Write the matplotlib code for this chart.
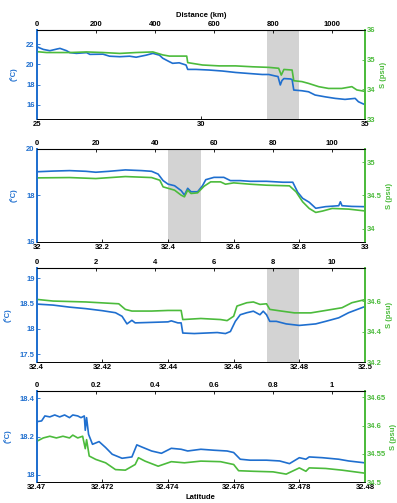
import numpy as np
import matplotlib
matplotlib.use('Agg')
import matplotlib.pyplot as plt
from matplotlib.ticker import FuncFormatter

plt.rcParams['font.family'] = ['Liberation Sans', 'DejaVu Sans']
plt.rcParams['font.size'] = 5.5
plt.rcParams['font.weight'] = 'bold'

# panel 1 : 25 - 35
lat1_t = [25.0, 25.2, 25.4, 25.61, 25.71, 25.91, 26.01, 26.21, 26.52, 26.62, 27.02, 27.22, 27.53, 27.83,
          28.03, 28.33, 28.54, 28.74, 28.84, 29.04, 29.14, 29.34, 29.55, 29.6, 29.85, 30.25, 30.66, 31.06,
          31.46, 31.87, 32.07, 32.27, 32.35, 32.42, 32.47, 32.53, 32.73, 32.78, 32.83, 33.08, 33.28, 33.48,
          33.79, 34.09, 34.39, 34.7, 34.8, 34.95]
t1 = [21.74, 21.47, 21.34, 21.5, 21.57, 21.34, 21.15, 21.08, 21.15, 20.98, 21.0, 20.8, 20.75, 20.8,
      20.7, 20.9, 21.08, 20.9, 20.6, 20.26, 20.1, 20.15, 19.93, 19.5, 19.5, 19.44, 19.34, 19.2,
      19.1, 19.0, 19.0, 18.85, 18.8, 17.97, 18.4, 18.6, 18.56, 18.5, 17.47, 17.4, 17.3, 16.98,
      16.8, 16.65, 16.55, 16.65, 16.32, 16.1]
lat1_s = [25.0, 25.3, 25.61, 26.01, 26.52, 27.02, 27.53, 28.03, 28.54, 28.84, 29.04, 29.34, 29.57, 29.6,
          30.05, 30.56, 31.06, 31.57, 32.07, 32.37, 32.45, 32.53, 32.78, 32.83, 33.08, 33.28, 33.59,
          33.89, 34.29, 34.6, 34.75, 34.95]
s1 = [35.27, 35.24, 35.24, 35.24, 35.26, 35.24, 35.21, 35.24, 35.26, 35.16, 35.12, 35.12, 35.12, 34.9,
      34.82, 34.79, 34.79, 34.76, 34.74, 34.71, 34.48, 34.67, 34.65, 34.29, 34.26, 34.2, 34.09,
      34.03, 34.03, 34.09, 33.98, 33.94]

# panel 2 : 32 - 33
lat2_t = [32.0, 32.05, 32.1, 32.15, 32.18, 32.22, 32.27, 32.32, 32.35, 32.37, 32.385, 32.4, 32.42, 32.44,
          32.45, 32.46, 32.47, 32.49, 32.505, 32.515, 32.54, 32.57, 32.59, 32.62, 32.65, 32.7, 32.75,
          32.78, 32.795, 32.81, 32.83, 32.85, 32.88, 32.92, 32.925, 32.93, 32.96, 32.995]
t2 = [19.02, 19.05, 19.07, 19.04, 19.0, 19.04, 19.1, 19.07, 19.04, 18.92, 18.64, 18.49, 18.42, 18.21,
      18.02, 18.31, 18.16, 18.16, 18.42, 18.68, 18.78, 18.78, 18.64, 18.64, 18.61, 18.61, 18.57,
      18.57, 18.14, 17.88, 17.71, 17.45, 17.52, 17.56, 17.73, 17.56, 17.53, 17.52]
lat2_s = [32.0, 32.1, 32.18, 32.27, 32.35, 32.375, 32.385, 32.42, 32.44, 32.45, 32.46, 32.47, 32.49,
          32.51, 32.53, 32.56, 32.575, 32.6, 32.65, 32.7, 32.77, 32.79, 32.81, 32.83, 32.85, 32.87,
          32.9, 32.95, 32.995]
s2 = [34.765, 34.77, 34.755, 34.785, 34.77, 34.73, 34.63, 34.58, 34.505, 34.48, 34.58, 34.53, 34.54,
      34.64, 34.705, 34.705, 34.67, 34.69, 34.67, 34.655, 34.645, 34.555, 34.405, 34.305, 34.245, 34.265,
      34.305, 34.295, 34.27]

# panel 3 : 32.4 - 32.5
lat3_t = [32.4, 32.405, 32.41, 32.415, 32.42, 32.424, 32.426, 32.4275, 32.429, 32.43, 32.435, 32.44,
          32.441, 32.443, 32.444, 32.4445, 32.448, 32.455, 32.4575, 32.459, 32.4605, 32.462, 32.464,
          32.466, 32.468, 32.469, 32.47, 32.471, 32.473, 32.476, 32.48, 32.485, 32.488, 32.492, 32.495,
          32.4995]
t3 = [18.49, 18.47, 18.43, 18.4, 18.36, 18.32, 18.25, 18.1, 18.17, 18.12, 18.13, 18.14,
      18.16, 18.12, 18.12, 17.92, 17.91, 17.93, 17.91, 17.95, 18.15, 18.28, 18.32,
      18.35, 18.28, 18.35, 18.28, 18.15, 18.15, 18.1, 18.07, 18.1, 18.15, 18.22, 18.32,
      18.43]
lat3_s = [32.4, 32.405, 32.415, 32.425, 32.427, 32.429, 32.435, 32.44, 32.444, 32.4445, 32.45, 32.456,
          32.458, 32.46, 32.461, 32.464, 32.466, 32.468, 32.47, 32.471, 32.4745, 32.4785, 32.4835, 32.488,
          32.493, 32.496, 32.4995]
s3 = [34.613, 34.602, 34.596, 34.584, 34.547, 34.536, 34.536, 34.54, 34.54, 34.48, 34.487, 34.48,
      34.473, 34.502, 34.569, 34.591, 34.596, 34.58, 34.584, 34.547, 34.536, 34.524, 34.524, 34.54,
      34.558, 34.591, 34.609]

# panel 4 : 32.47 - 32.48
lat4_t = [32.47, 32.47015, 32.47025, 32.4704, 32.47055, 32.4707, 32.47085, 32.471, 32.4711, 32.47125,
          32.47135, 32.47145, 32.47148, 32.47152, 32.47158, 32.4717, 32.4719, 32.4721, 32.4723, 32.4726,
          32.4729, 32.47305, 32.4732, 32.4735, 32.4738, 32.4741, 32.4744, 32.4746, 32.475, 32.4754,
          32.4758, 32.476, 32.4762, 32.4765, 32.477, 32.4774, 32.4777, 32.478, 32.4782, 32.4783,
          32.4787, 32.4792, 32.4795, 32.47995]
t4 = [18.278, 18.282, 18.308, 18.303, 18.313, 18.303, 18.313, 18.299, 18.313, 18.308,
      18.299, 18.308, 18.233, 18.299, 18.212, 18.16, 18.174, 18.143, 18.108, 18.087,
      18.094, 18.157, 18.146, 18.125, 18.113, 18.139, 18.134, 18.125, 18.134, 18.129,
      18.125, 18.117, 18.082, 18.077, 18.077, 18.073, 18.059, 18.09, 18.082, 18.094,
      18.09, 18.082, 18.073, 18.064]
lat4_s = [32.47, 32.4702, 32.4704, 32.4706, 32.4708, 32.471, 32.4711, 32.47125, 32.4714, 32.47148,
          32.47152, 32.4716, 32.4718, 32.4721, 32.4724, 32.4727, 32.473, 32.4731, 32.4733, 32.4737,
          32.4741, 32.4745, 32.475, 32.4756, 32.476, 32.47615, 32.4766, 32.4772, 32.4776, 32.478,
          32.4782, 32.4783, 32.4788, 32.4793, 32.47995]
s4 = [34.572, 34.578, 34.581, 34.578, 34.581, 34.578, 34.583, 34.578, 34.581, 34.559,
      34.575, 34.546, 34.54, 34.534, 34.522, 34.521, 34.531, 34.543, 34.537, 34.528,
      34.536, 34.534, 34.537, 34.536, 34.531, 34.52, 34.519, 34.518, 34.514, 34.525,
      34.519, 34.525, 34.524, 34.521, 34.516]

panels = [
    dict(lt=lat1_t, t=t1, ls=lat1_s, s=s1, xlim=(25, 35), xt=[25, 30, 35],
         tlim=(14.62, 23.38), tt=[16, 18, 20, 22], slim=(33, 36), st=[33, 34, 35, 36],
         shade=(32, 33), dt=np.arange(0, 1001, 200)),
    dict(lt=lat2_t, t=t2, ls=lat2_s, s=s2, xlim=(32, 33), xt=[32, 32.2, 32.4, 32.6, 32.8, 33],
         tlim=(16, 20), tt=[16, 18, 20], slim=(33.8, 35.2), st=[34, 34.5, 35],
         shade=(32.4, 32.5), dt=np.arange(0, 101, 20)),
    dict(lt=lat3_t, t=t3, ls=lat3_s, s=s3, xlim=(32.4, 32.5),
         xt=[32.4, 32.42, 32.44, 32.46, 32.48, 32.5],
         tlim=(17.35, 19.2), tt=[17.5, 18, 18.5, 19], slim=(34.2, 34.82), st=[34.2, 34.4, 34.6],
         shade=(32.47, 32.48), dt=np.arange(0, 11, 2)),
    dict(lt=lat4_t, t=t4, ls=lat4_s, s=s4, xlim=(32.47, 32.48),
         xt=[32.47, 32.472, 32.474, 32.476, 32.478, 32.48],
         tlim=(17.963, 18.438), tt=[18, 18.2, 18.4], slim=(34.5, 34.661), st=[34.5, 34.55, 34.6, 34.65],
         shade=None, dt=[0, 0.2, 0.4, 0.6, 0.8, 1.0]),
]

blue = '#1f6fcf'
green = '#4cbb3c'
fmt = FuncFormatter(lambda v, p: '%g' % round(v, 6))
km = 111.2

fig = plt.figure(figsize=(3.97, 5.03), dpi=100)
boxes = [(0.7634, 0.177), (0.5189, 0.1849), (0.2803, 0.1869), (0.0417, 0.1809)]

for i, p in enumerate(panels):
    ax = fig.add_axes([0.0924, boxes[i][0], 0.827, boxes[i][1]])
    ax2 = ax.twinx()
    if p['shade'] is not None:
        ax.axvspan(p['shade'][0], p['shade'][1], color='#d3d3d3', lw=0, zorder=0)
    ax.plot(p['lt'], p['t'], color=blue, lw=1.2)
    ax2.plot(p['ls'], p['s'], color=green, lw=1.2)
    ax.set_xlim(p['xlim'])
    ax.set_ylim(p['tlim'])
    ax2.set_ylim(p['slim'])
    ax.set_xticks(p['xt'])
    ax.set_yticks(p['tt'])
    ax2.set_yticks(p['st'])
    ax.xaxis.set_major_formatter(fmt)
    ax.yaxis.set_major_formatter(fmt)
    ax2.yaxis.set_major_formatter(fmt)
    ax.tick_params(direction='in', length=2.5, width=0.6, pad=1.5, labelsize=5.5)
    ax2.tick_params(direction='in', length=2.5, width=0.6, pad=1.5, labelsize=5.5,
                    colors=green)
    ax.tick_params(axis='y', colors=blue)
    ax.set_ylabel('(°C)', color=blue, fontweight='bold', labelpad=6)
    ax2.set_ylabel('S (psu)', color=green, fontweight='bold', labelpad=3)
    for a in (ax, ax2):
        a.spines['left'].set_color(blue)
        a.spines['left'].set_linewidth(1.3)
        a.spines['right'].set_color(green)
        a.spines['right'].set_linewidth(1.3)
        a.spines['top'].set_linewidth(0.6)
        a.spines['bottom'].set_linewidth(0.6)
    x0 = p['xlim'][0]
    top = ax.secondary_xaxis('top', functions=(lambda x, x0=x0: (x - x0) * km,
                                               lambda d, x0=x0: d / km + x0))
    top.set_xticks(p['dt'])
    top.xaxis.set_major_formatter(fmt)
    top.tick_params(direction='in', length=2.5, width=0.6, pad=1.5, labelsize=5.5)
    if i == 0:
        top.set_xlabel('Distance (km)', fontweight='bold', labelpad=3)
    if i == 3:
        ax.set_xlabel('Latitude', fontweight='bold', labelpad=2)

fig.savefig('out.png', dpi=100)
